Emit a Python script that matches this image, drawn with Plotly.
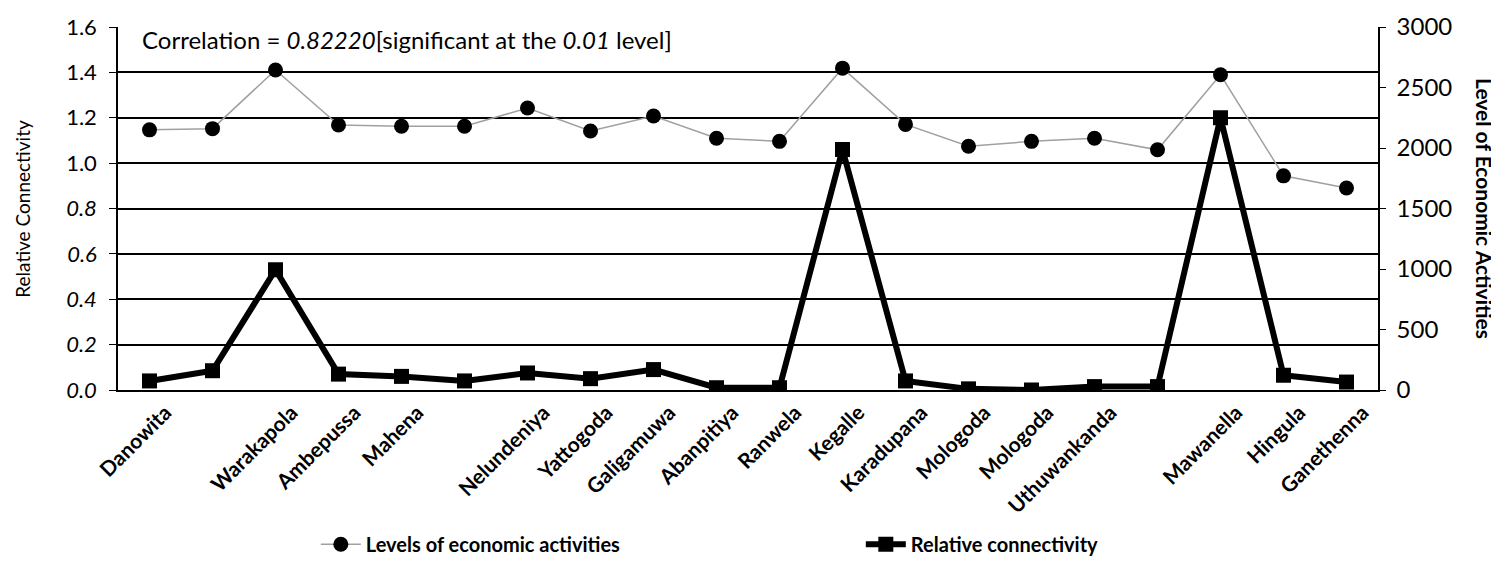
import plotly.graph_objects as go

places = ["Danowita", "", "Warakapola", "Ambepussa", "Mahena", "", "Nelundeniya",
          "Yattogoda", "Galigamuwa", "Abanpitiya", "Ranwela", "Kegalle", "Karadupana",
          "Mologoda", "Mologoda", "Uthuwankanda", "", "Mawanella", "Hingula", "Ganethenna"]
economic = [2150, 2160, 2645, 2190, 2180, 2180, 2330, 2140, 2265, 2080,
            2055, 2660, 2195, 2015, 2055, 2080, 1985, 2605, 1770, 1670]
connectivity = [0.04, 0.085, 0.53, 0.07, 0.06, 0.04, 0.075, 0.05, 0.09, 0.01,
                0.01, 1.06, 0.04, 0.005, 0.0, 0.015, 0.015, 1.2, 0.065, 0.035]
left_ticks = [0.0, 0.2, 0.4, 0.6, 0.8, 1.0, 1.2, 1.4, 1.6]
right_ticks = [0, 500, 1000, 1500, 2000, 2500, 3000]

xs = list(range(len(places)))
FONT = "Lato"

left_text = [f"<i>{v:.1f}</i>" if v < 0.9 else f"{v:.1f}" for v in left_ticks]

fig = go.Figure()
fig.add_trace(go.Scatter(
    x=xs, y=economic, yaxis="y2", mode="lines+markers",
    name="Levels of economic activities",
    line=dict(color="#a0a0a0", width=1.5),
    marker=dict(symbol="circle", size=15, color="black"),
))
fig.add_trace(go.Scatter(
    x=xs, y=connectivity, yaxis="y", mode="lines+markers",
    name="Relative connectivity",
    line=dict(color="black", width=6),
    marker=dict(symbol="square", size=15, color="black"),
))

fig.update_layout(
    width=1491, height=564,
    margin=dict(l=110, r=121, t=19, b=182, autoexpand=False),
    paper_bgcolor="white", plot_bgcolor="white",
    font=dict(family=FONT, color="black"),
    xaxis=dict(
        range=[-0.5, len(places) - 0.5],
        tickvals=xs, ticktext=places, tickangle=-45,
        tickfont=dict(size=21, family=FONT, weight="bold"),
        ticklabelshift=16,
        showgrid=False, showline=True, linecolor="black", linewidth=2,
        ticks="", zeroline=False, automargin=False,
    ),
    yaxis=dict(
        range=[0, 1.6], tickvals=left_ticks, ticktext=left_text,
        tickfont=dict(size=22, family=FONT),
        showgrid=True, gridcolor="black", gridwidth=2,
        showline=True, linecolor="black", linewidth=1.5,
        ticks="outside", ticklen=7, tickcolor="black", zeroline=False,
        ticklabelstandoff=8, automargin=False,
    ),
    yaxis2=dict(
        range=[0, 3000], tickvals=right_ticks,
        tickfont=dict(size=24, family=FONT),
        overlaying="y", side="right", showgrid=False,
        showline=True, linecolor="black", linewidth=1.5,
        ticks="outside", ticklen=6, tickcolor="black", zeroline=False,
        ticklabelstandoff=6, automargin=False,
    ),
    legend=dict(
        orientation="h", x=0.157, y=-0.425, xanchor="left", yanchor="middle",
        entrywidth=490, entrywidthmode="pixels", itemwidth=40,
        font=dict(size=20, family=FONT, weight="bold"), bgcolor="rgba(0,0,0,0)",
    ),
    showlegend=True,
    annotations=[
        dict(text="Correlation = <i>0.82220</i>[significant at the <i>0.01</i> level]",
             xref="paper", yref="paper", x=0.0175, y=1.012, xanchor="left", yanchor="top",
             showarrow=False, font=dict(size=24, family=FONT)),
        dict(text="Relative Connectivity", xref="paper", yref="paper",
             x=-0.076, y=0.5, xanchor="center", yanchor="middle", textangle=-90,
             showarrow=False, font=dict(size=19, family=FONT)),
        dict(text="Level of Economic Activities", xref="paper", yref="paper",
             x=1.0845, y=0.5, xanchor="center", yanchor="middle", textangle=90,
             showarrow=False, font=dict(size=21, family=FONT, weight="bold")),
    ],
)

fig.write_html("out.html")
